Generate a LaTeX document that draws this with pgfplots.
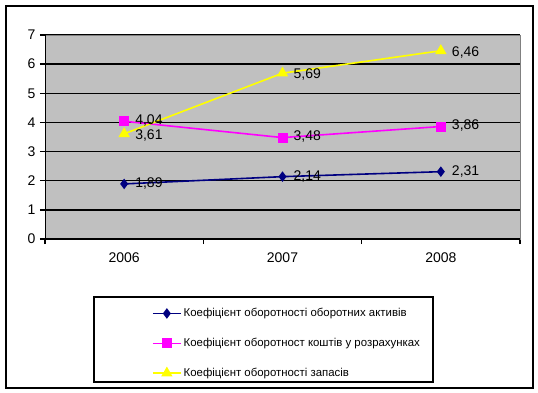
\documentclass[border=0pt]{standalone}
\usepackage{pgfplots}
\pgfplotsset{compat=1.18}
\usepackage{fontspec}
\setmainfont{Liberation Sans}
\definecolor{cnavy}{RGB}{0,0,128}
\definecolor{cmag}{RGB}{255,0,255}
\definecolor{cyel}{RGB}{255,255,0}
\definecolor{cgray}{RGB}{192,192,192}
\definecolor{cbord}{RGB}{128,128,128}
\begin{document}
\begin{tikzpicture}
\path[fill=white] (0pt,0pt) rectangle (538pt,392pt);
\draw[line width=2.8pt] (6pt,4pt) rectangle (533pt,386pt);
\draw[line width=2.2pt] (94pt,10pt) rectangle (433pt,95pt);
\begin{axis}[
  at={(45pt,153pt)}, anchor=south west,
  width=475pt, height=204pt, scale only axis,
  xmin=-0.5, xmax=2.5, ymin=0, ymax=7,
  axis background/.style={fill=cgray},
  axis line style={draw=cbord, line width=1pt},
  xtick={-0.5,0.5,1.5,2.5}, x tick label as interval, xticklabels={2006,2007,2008},
  ytick={0,1,...,7},
  ymajorgrids, grid style={black, line width=1.3pt},
  tick align=outside, tick pos=left,
  major tick length=5pt,
  every tick/.style={black, line width=1.3pt},
  ticklabel style={font=\fontsize{14}{16}\selectfont},
  xticklabel style={yshift=-5pt},
  yticklabel style={xshift=-1pt},
  /pgf/number format/assume math mode=true,
  nodes near coords={\pgfmathprintnumber[use comma,fixed,fixed zerofill,precision=2,assume math mode=true]{\pgfplotspointmeta}},
  every node near coord/.append style={anchor=west, xshift=7pt, inner ysep=0pt, font=\fontsize{14}{15}\selectfont, black},
  legend style={at={(0.225,-0.33)}, anchor=north west, draw=none, fill=none,
    font=\fontsize{11.4}{13}\selectfont, row sep=16pt, inner sep=0pt,
    nodes={inner sep=2pt}},
  legend cell align=left,
  legend image code/.code={\draw[mark repeat=2,mark phase=2,#1] plot coordinates {(0pt,0pt)(14pt,0pt)(28pt,0pt)};},
]
\addplot[cnavy, line width=1.6pt, mark=diamond*, mark size=4pt, mark options={fill=cnavy}] coordinates {(0,1.89) (1,2.14) (2,2.31)};
\addlegendentry{Коефіцієнт оборотності оборотних активів}
\addplot[cmag, line width=1.6pt, mark=square*, mark size=4.2pt, mark options={fill=cmag},
  every node near coord/.append style={yshift=1pt}] coordinates {(0,4.04) (1,3.48) (2,3.86)};
\addlegendentry{Коефіцієнт оборотност коштів у розрахунках}
\addplot[cyel, line width=1.6pt, mark=triangle*, mark size=5pt, mark options={fill=cyel},
  every node near coord/.append style={yshift=-1.5pt}] coordinates {(0,3.61) (1,5.69) (2,6.46)};
\addlegendentry{Коефіцієнт оборотності запасів}
\draw[black, line width=1.5pt] (rel axis cs:0,1) -- (rel axis cs:0,0) -- (rel axis cs:1,0);
\end{axis}
\end{tikzpicture}
\end{document}
